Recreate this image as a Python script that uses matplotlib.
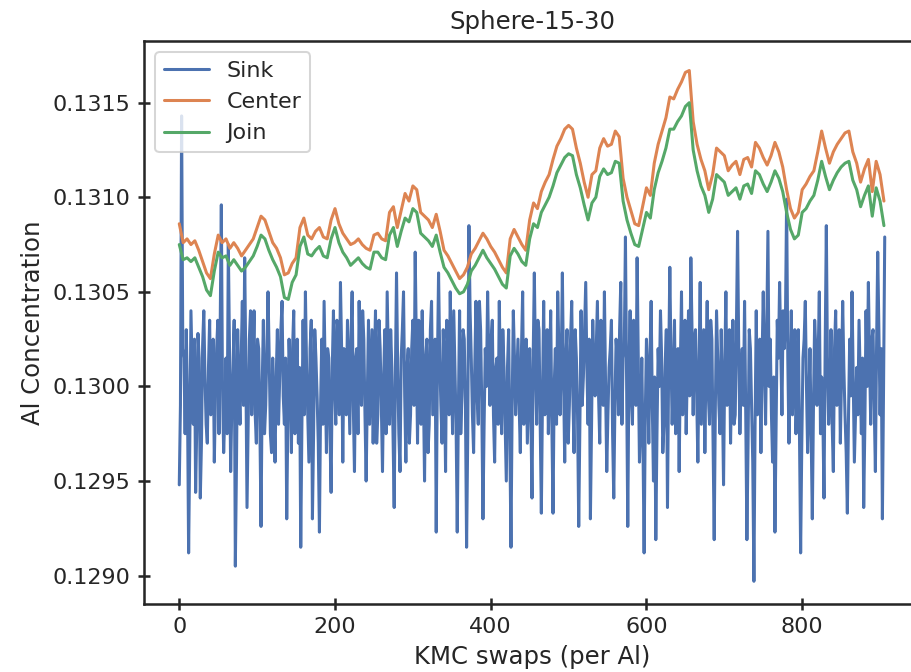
import numpy as np
import matplotlib
matplotlib.use("Agg")
import matplotlib.pyplot as plt
import seaborn as sns

# Al concentration in the sink region (one sample every 1.5 swaps)
sink = [
    0.12948, 0.12990, 0.13143, 0.13020, 0.13015, 0.12975, 0.13030, 0.12995, 0.12912, 0.12970,
    0.13040, 0.13010, 0.12980, 0.13025, 0.12944, 0.12980, 0.13028, 0.13015, 0.12941, 0.12970,
    0.13022, 0.13040, 0.13005, 0.12980, 0.12970, 0.13010, 0.13035, 0.12985, 0.12990, 0.13025,
    0.12960, 0.12995, 0.13020, 0.13035, 0.12975, 0.13030, 0.13096, 0.13000, 0.12965, 0.12985,
    0.13015, 0.12975, 0.13075, 0.13020, 0.12955, 0.12990, 0.13010, 0.13035, 0.12905, 0.12960,
    0.13030, 0.13000, 0.12980, 0.13015, 0.13045, 0.12990, 0.13068, 0.13010, 0.12936, 0.12980,
    0.13025, 0.13040, 0.12985, 0.13010, 0.13040, 0.12985, 0.12970, 0.13025, 0.13020, 0.12980,
    0.12926, 0.13000, 0.13035, 0.12975, 0.12990, 0.13020, 0.13050, 0.13015, 0.12975, 0.12965,
    0.13015, 0.12990, 0.12960, 0.13005, 0.13030, 0.12980, 0.13005, 0.13030, 0.13045, 0.12995,
    0.12980, 0.13015, 0.12930, 0.12985, 0.13025, 0.13005, 0.12965, 0.13020, 0.13040, 0.12975,
    0.13010, 0.13025, 0.12970, 0.13010, 0.12915, 0.12980, 0.13035, 0.12985, 0.13050, 0.13010,
    0.12985, 0.12960, 0.13020, 0.13035, 0.12930, 0.12975, 0.13030, 0.13015, 0.12995, 0.12970,
    0.12923, 0.12990, 0.13025, 0.12980, 0.13045, 0.13005, 0.12965, 0.13020, 0.13015, 0.12975,
    0.12944, 0.13010, 0.13040, 0.13000, 0.12980, 0.13035, 0.13030, 0.12985, 0.13055, 0.13020,
    0.12960, 0.13020, 0.13010, 0.12985, 0.13035, 0.13005, 0.12975, 0.13025, 0.13050, 0.12990,
    0.12955, 0.13015, 0.13020, 0.12975, 0.13045, 0.13005, 0.12990, 0.13040, 0.13025, 0.12985,
    0.12950, 0.12995, 0.13035, 0.12980, 0.13005, 0.13030, 0.12970, 0.13010, 0.13040, 0.12970,
    0.12985, 0.13035, 0.13020, 0.12990, 0.12955, 0.13005, 0.13030, 0.12975, 0.13050, 0.13015,
    0.12980, 0.13030, 0.13010, 0.12975, 0.12936, 0.13005, 0.13060, 0.13010, 0.12975, 0.12955,
    0.13015, 0.13030, 0.13050, 0.12995, 0.12960, 0.13010, 0.13020, 0.12970, 0.12985, 0.13020,
    0.13035, 0.12990, 0.13071, 0.13020, 0.12970, 0.13035, 0.13010, 0.12980, 0.13040, 0.13000,
    0.12950, 0.13015, 0.13025, 0.12965, 0.12980, 0.13030, 0.13045, 0.12985, 0.13005, 0.13025,
    0.12923, 0.13010, 0.13060, 0.13015, 0.12990, 0.12970, 0.13030, 0.13005, 0.12955, 0.13035,
    0.13020, 0.12985, 0.13050, 0.13010, 0.12975, 0.13040, 0.13010, 0.12980, 0.12923, 0.12990,
    0.13040, 0.12975, 0.12995, 0.13030, 0.13025, 0.12990, 0.12915, 0.12975, 0.13085, 0.13040,
    0.13015, 0.12985, 0.12965, 0.13010, 0.13045, 0.12995, 0.12980, 0.13045, 0.13030, 0.12990,
    0.12930, 0.12980, 0.13020, 0.13000, 0.13050, 0.13015, 0.12990, 0.13025, 0.13035, 0.12985,
    0.12960, 0.13010, 0.13015, 0.12980, 0.13045, 0.13000, 0.12975, 0.13030, 0.13010, 0.12980,
    0.12950, 0.13010, 0.13030, 0.12975, 0.12915, 0.12990, 0.13040, 0.13015, 0.12985, 0.13005,
    0.13025, 0.12990, 0.12965, 0.13020, 0.13050, 0.12980, 0.13005, 0.13025, 0.12970, 0.12995,
    0.13020, 0.12985, 0.12941, 0.13015, 0.13060, 0.13010, 0.12980, 0.13035, 0.13030, 0.12980,
    0.12933, 0.12995, 0.13045, 0.12985, 0.13010, 0.13030, 0.12975, 0.13005, 0.13040, 0.12980,
    0.12933, 0.13000, 0.13020, 0.12980, 0.13050, 0.13020, 0.12985, 0.13010, 0.13060, 0.13005,
    0.12960, 0.13015, 0.13030, 0.12970, 0.12990, 0.13025, 0.13045, 0.12995, 0.12965, 0.13030,
    0.13015, 0.12985, 0.12926, 0.12980, 0.13040, 0.12990, 0.13005, 0.13030, 0.13055, 0.13010,
    0.12980, 0.13025, 0.12930, 0.12980, 0.13035, 0.13010, 0.12995, 0.13020, 0.13045, 0.12995,
    0.12970, 0.13035, 0.13020, 0.12990, 0.13050, 0.13000, 0.12955, 0.12985, 0.13010, 0.13020,
    0.13035, 0.12975, 0.12941, 0.12990, 0.13025, 0.13015, 0.12985, 0.13030, 0.13055, 0.12980,
    0.13015, 0.13020, 0.13079, 0.13000, 0.12926, 0.13010, 0.13040, 0.12995, 0.12980, 0.13035,
    0.13030, 0.12990, 0.13068, 0.13015, 0.12960, 0.12980, 0.13015, 0.12970, 0.12912, 0.12985,
    0.13025, 0.13005, 0.12970, 0.13015, 0.13045, 0.12990, 0.12950, 0.13005, 0.12919, 0.12975,
    0.13020, 0.13000, 0.13040, 0.13015, 0.12965, 0.12980, 0.13010, 0.13030, 0.12936, 0.13010,
    0.13063, 0.13015, 0.12980, 0.13005, 0.13035, 0.12975, 0.12990, 0.13020, 0.12955, 0.13010,
    0.13050, 0.12985, 0.13020, 0.13035, 0.12975, 0.13010, 0.13040, 0.12995, 0.13068, 0.13030,
    0.12985, 0.13025, 0.13030, 0.12995, 0.12960, 0.13010, 0.13055, 0.12980, 0.13005, 0.13030,
    0.12965, 0.13015, 0.13045, 0.12995, 0.12980, 0.13035, 0.13025, 0.12970, 0.12919, 0.12990,
    0.13040, 0.13015, 0.12990, 0.12975, 0.13030, 0.12995, 0.12948, 0.13010, 0.13050, 0.12990,
    0.13015, 0.13030, 0.12970, 0.13005, 0.13035, 0.12980, 0.12985, 0.13030, 0.13082, 0.13020,
    0.12975, 0.13005, 0.13020, 0.12990, 0.13045, 0.12985, 0.12919, 0.12970, 0.13030, 0.13020,
    0.12990, 0.12960, 0.12897, 0.12980, 0.13040, 0.12985, 0.13010, 0.13025, 0.12965, 0.13015,
    0.13050, 0.13010, 0.12980, 0.13030, 0.13082, 0.13000, 0.13025, 0.12985, 0.12960, 0.13005,
    0.12923, 0.12980, 0.13035, 0.13015, 0.13055, 0.13020, 0.12985, 0.13040, 0.13020, 0.13035,
    0.13099, 0.13015, 0.12970, 0.13005, 0.13040, 0.12985, 0.13010, 0.13030, 0.12975, 0.13000,
    0.13030, 0.12975, 0.12912, 0.12970, 0.13015, 0.13025, 0.13045, 0.13000, 0.12965, 0.12990,
    0.13020, 0.12975, 0.12930, 0.12990, 0.13035, 0.13020, 0.12990, 0.13015, 0.13050, 0.12975,
    0.13005, 0.12985, 0.12941, 0.13020, 0.13085, 0.13010, 0.12980, 0.12995, 0.13030, 0.12980,
    0.12955, 0.13020, 0.13040, 0.12990, 0.13015, 0.13030, 0.12970, 0.13005, 0.13045, 0.13010,
    0.12985, 0.12965, 0.12933, 0.12985, 0.13025, 0.12995, 0.13050, 0.13005, 0.12960, 0.12985,
    0.13010, 0.12985, 0.13035, 0.13005, 0.12975, 0.13015, 0.12936, 0.12980, 0.13040, 0.13000,
    0.13055, 0.13015, 0.12980, 0.13025, 0.13030, 0.12990, 0.12955, 0.13020, 0.13071, 0.13030,
    0.12985, 0.13020, 0.12930, 0.13000, 0.13079,
]

# Al concentration in the center region (one sample every 5 swaps)
center = [
    0.13086, 0.13076, 0.13078, 0.13075, 0.13077, 0.13072, 0.13066, 0.13060, 0.13057, 0.13070,
    0.13080, 0.13076, 0.13078, 0.13073, 0.13076, 0.13073, 0.13069, 0.13072, 0.13075, 0.13078,
    0.13084, 0.13090, 0.13088, 0.13082, 0.13076, 0.13073, 0.13068, 0.13059, 0.13060, 0.13065,
    0.13068, 0.13084, 0.13089, 0.13080, 0.13078, 0.13082, 0.13084, 0.13079, 0.13078, 0.13088,
    0.13094, 0.13086, 0.13081, 0.13078, 0.13075, 0.13076, 0.13078, 0.13075, 0.13073, 0.13072,
    0.13080, 0.13081, 0.13078, 0.13077, 0.13092, 0.13095, 0.13084, 0.13093, 0.13102, 0.13098,
    0.13106, 0.13104, 0.13092, 0.13090, 0.13088, 0.13084, 0.13091, 0.13082, 0.13072, 0.13069,
    0.13065, 0.13061, 0.13057, 0.13059, 0.13063, 0.13070, 0.13073, 0.13077, 0.13081, 0.13078,
    0.13074, 0.13071, 0.13067, 0.13063, 0.13060, 0.13078, 0.13083, 0.13079, 0.13075, 0.13072,
    0.13088, 0.13097, 0.13094, 0.13103, 0.13108, 0.13112, 0.13120, 0.13127, 0.13131, 0.13136,
    0.13138, 0.13136, 0.13126, 0.13118, 0.13108, 0.13100, 0.13112, 0.13114, 0.13126, 0.13131,
    0.13127, 0.13128, 0.13135, 0.13132, 0.13110, 0.13100, 0.13093, 0.13086, 0.13085, 0.13095,
    0.13105, 0.13101, 0.13118, 0.13128, 0.13135, 0.13142, 0.13153, 0.13152, 0.13157, 0.13161,
    0.13166, 0.13167, 0.13140, 0.13128, 0.13120, 0.13114, 0.13104, 0.13112, 0.13126, 0.13124,
    0.13122, 0.13114, 0.13117, 0.13119, 0.13112, 0.13120, 0.13121, 0.13116, 0.13129, 0.13126,
    0.13121, 0.13117, 0.13122, 0.13129, 0.13124, 0.13116, 0.13104, 0.13094, 0.13089, 0.13092,
    0.13104, 0.13107, 0.13111, 0.13114, 0.13124, 0.13135, 0.13126, 0.13118, 0.13124, 0.13128,
    0.13131, 0.13134, 0.13135, 0.13124, 0.13118, 0.13108, 0.13115, 0.13120, 0.13103, 0.13119,
    0.13112, 0.13098,
]

# Al concentration at the join (one sample every 5 swaps)
join = [
    0.13075, 0.13067, 0.13068, 0.13066, 0.13068, 0.13063, 0.13058, 0.13051, 0.13048, 0.13061,
    0.13071, 0.13068, 0.13069, 0.13064, 0.13067, 0.13064, 0.13061, 0.13063, 0.13066, 0.13069,
    0.13074, 0.13080, 0.13078, 0.13072, 0.13067, 0.13063, 0.13058, 0.13047, 0.13046, 0.13055,
    0.13059, 0.13074, 0.13079, 0.13070, 0.13069, 0.13072, 0.13074, 0.13069, 0.13068, 0.13078,
    0.13084, 0.13076, 0.13071, 0.13068, 0.13064, 0.13066, 0.13068, 0.13065, 0.13063, 0.13062,
    0.13071, 0.13071, 0.13068, 0.13067, 0.13080, 0.13084, 0.13074, 0.13082, 0.13089, 0.13087,
    0.13094, 0.13092, 0.13081, 0.13079, 0.13077, 0.13074, 0.13080, 0.13071, 0.13063, 0.13060,
    0.13056, 0.13052, 0.13049, 0.13050, 0.13054, 0.13061, 0.13064, 0.13068, 0.13072, 0.13068,
    0.13065, 0.13062, 0.13058, 0.13054, 0.13052, 0.13069, 0.13073, 0.13070, 0.13066, 0.13064,
    0.13078, 0.13086, 0.13084, 0.13092, 0.13096, 0.13100, 0.13106, 0.13113, 0.13117, 0.13121,
    0.13123, 0.13122, 0.13112, 0.13105, 0.13096, 0.13088, 0.13097, 0.13100, 0.13111, 0.13115,
    0.13112, 0.13113, 0.13119, 0.13118, 0.13098, 0.13088, 0.13081, 0.13075, 0.13074, 0.13083,
    0.13092, 0.13089, 0.13104, 0.13113, 0.13119, 0.13126, 0.13136, 0.13136, 0.13140, 0.13143,
    0.13148, 0.13150, 0.13125, 0.13114, 0.13106, 0.13101, 0.13092, 0.13099, 0.13112, 0.13110,
    0.13108, 0.13101, 0.13103, 0.13105, 0.13099, 0.13106, 0.13107, 0.13102, 0.13114, 0.13112,
    0.13107, 0.13103, 0.13108, 0.13114, 0.13110, 0.13103, 0.13092, 0.13083, 0.13078, 0.13080,
    0.13092, 0.13094, 0.13098, 0.13101, 0.13109, 0.13119, 0.13111, 0.13104, 0.13109, 0.13113,
    0.13116, 0.13118, 0.13119, 0.13109, 0.13104, 0.13095, 0.13101, 0.13106, 0.13090, 0.13105,
    0.13098, 0.13085,
]

# sample positions (KMC swaps per Al)
sink_x = np.arange(len(sink)) * 1.5
curve_x = np.arange(len(center)) * 5

sns.set_theme(style="ticks", palette="deep")

fig = plt.figure(figsize=(911 / 146, 672 / 146), dpi=146)
ax = fig.add_axes([144 / 911, 1 - 604 / 672, 776 / 911, 563 / 672])

ax.plot(sink_x, sink, label="Sink")
ax.plot(curve_x, center, label="Center")
ax.plot(curve_x, join, label="Join")

ax.set_ylim(0.12885, 0.131826)
ax.set_xticks([0, 200, 400, 600, 800])
ax.set_title("Sphere-15-30")
ax.set_xlabel("KMC swaps (per Al)")
ax.set_ylabel("Al Concentration")
ax.tick_params(direction="inout")
ax.legend(loc="upper left")

fig.savefig("out.png", dpi=146)
